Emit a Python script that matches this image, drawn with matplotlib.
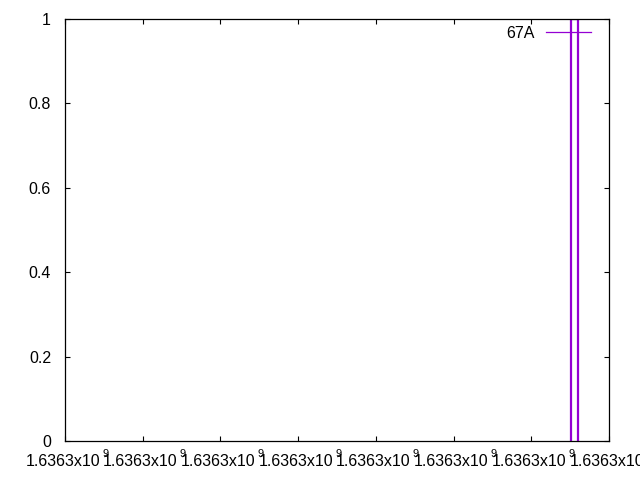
import matplotlib
matplotlib.use('Agg')
import matplotlib.pyplot as plt
from matplotlib.lines import Line2D

plt.rcParams['font.family'] = ['Liberation Sans', 'DejaVu Sans']

# timestamps (seconds) and the state of series 67A
series_name = '67A'
t = [1636306511, 1636306511, 1636306601, 1636306601]
state = [0, 1, 1, 0]

x_ticks = [1636300000 + 1000 * k for k in range(8)]
x_mant = ['1.6363x10'] * len(x_ticks)
x_exp = ['9'] * len(x_ticks)
y_ticks = [0, 0.2, 0.4, 0.6, 0.8, 1]
y_labels = ['0', '0.2', '0.4', '0.6', '0.8', '1']

purple = '#9400d3'
fs = 11.5

fig = plt.figure(figsize=(6.4, 4.8), dpi=100)
ax = fig.add_axes([65 / 640, 39 / 480, 544 / 640, 422 / 480])

ax.plot(t, state, color=purple, lw=1.6, solid_joinstyle='miter')

ax.set_xlim(x_ticks[0], x_ticks[-1])
ax.set_ylim(0, 1)
ax.set_xticks(x_ticks)
ax.set_xticklabels([''] * len(x_ticks))
ax.set_yticks(y_ticks)
ax.set_yticklabels(y_labels, fontsize=fs)
ax.tick_params(direction='in', length=3.5, width=0.8, top=True, right=True)
ax.tick_params(axis='y', pad=10)
for s in ax.spines.values():
    s.set_linewidth(0.9)
    s.set_zorder(5)

# gnuplot style "mantissa x10^exp" labels, exponent drawn small and low
for xt, m, e in zip(x_ticks, x_mant, x_exp):
    ax.annotate(m, xy=(xt, 0), xycoords=('data', 'axes fraction'),
                xytext=(35, -25), textcoords='offset pixels',
                ha='right', va='baseline', fontsize=fs, annotation_clip=False)
    ax.annotate(e, xy=(xt, 0), xycoords=('data', 'axes fraction'),
                xytext=(37, -16), textcoords='offset pixels',
                ha='left', va='baseline', fontsize=fs * 0.7, annotation_clip=False)

handle = Line2D([], [], color=purple, lw=0.9)
ax.legend([handle], [series_name], loc='upper right',
          bbox_to_anchor=(591 / 640, 1 - 26 / 480), bbox_transform=fig.transFigure,
          frameon=False, markerfirst=False, fontsize=fs, borderpad=0,
          borderaxespad=0, handlelength=2.8, handletextpad=0.75)

fig.savefig('out.png', dpi=100)
